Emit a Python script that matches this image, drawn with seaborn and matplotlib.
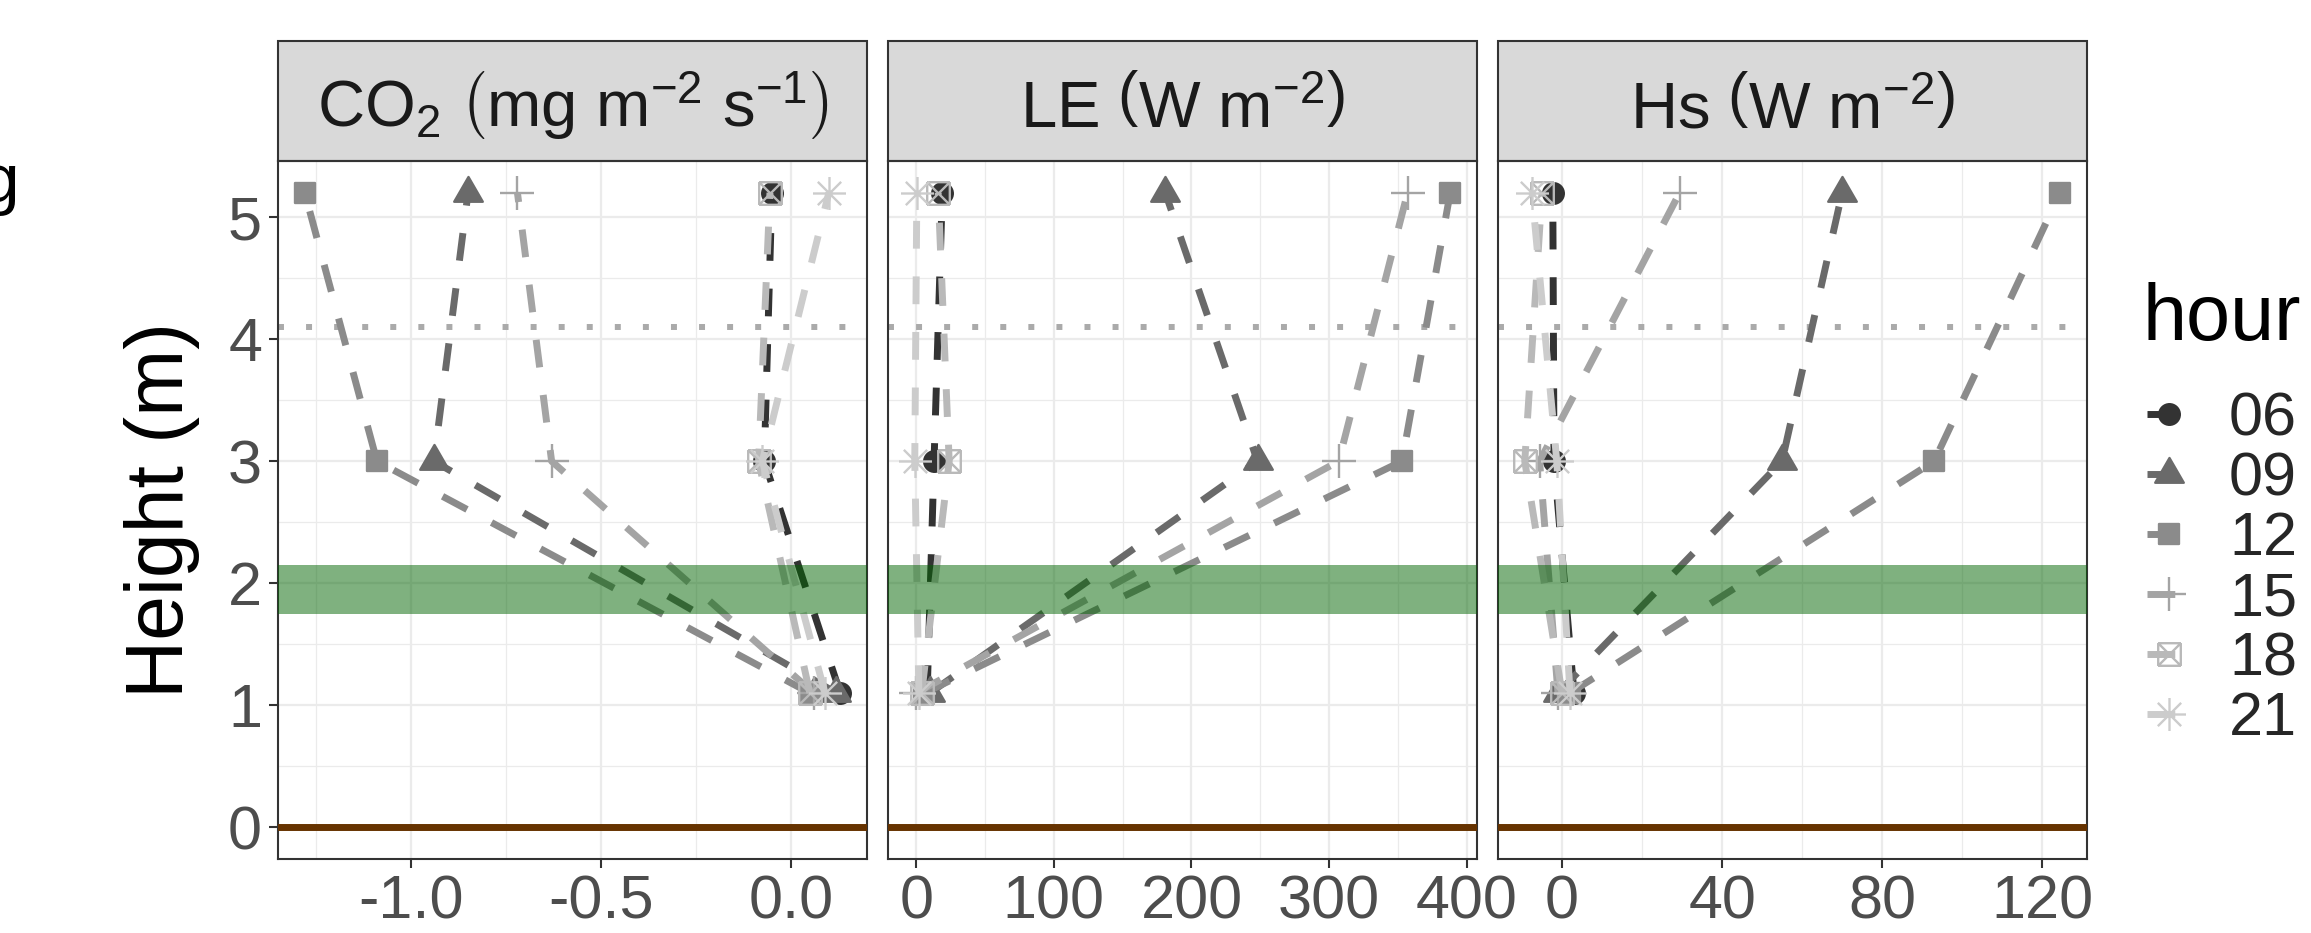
import numpy as np
import pandas as pd
import matplotlib
matplotlib.use('Agg')
import matplotlib.pyplot as plt
import seaborn as sns
from matplotlib.path import Path
from matplotlib.patches import Rectangle
from matplotlib.ticker import AutoMinorLocator

# measurement heights (m) and hours of the profiles
heights = [1.1, 3.0, 5.2]
hours = ['06', '09', '12', '15', '18', '21']

# flux profiles, one list per hour, values at 1.1, 3.0 and 5.2 m
co2 = {'06': [0.13, -0.07, -0.05],
       '09': [0.12, -0.94, -0.85],
       '12': [0.05, -1.09, -1.28],
       '15': [0.06, -0.63, -0.72],
       '18': [0.05, -0.085, -0.055],
       '21': [0.09, -0.075, 0.10]}
le = {'06': [8, 13, 19],
      '09': [10, 248, 181],
      '12': [6, 353, 388],
      '15': [0, 307, 357],
      '18': [4, 24, 16],
      '21': [2, -1, 0.5]}
hs = {'06': [3, -2, -2.3],
      '09': [-1, 55, 70],
      '12': [2, 93, 124.5],
      '15': [-1, -5.6, 29.4],
      '18': [0, -9.3, -5],
      '21': [2, -1.3, -7.5]}

panel_titles = [r'CO$_2$ $\left(\mathrm{mg\ m^{-2}\ s^{-1}}\right)$',
                r'LE $\left(\mathrm{W\ m^{-2}}\right)$',
                r'Hs $\left(\mathrm{W\ m^{-2}}\right)$']
x_ticks = [[-1.0, -0.5, 0.0], [0, 100, 200, 300, 400], [0, 40, 80, 120]]
x_ticklabels = [['-1.0', '-0.5', '0.0'], ['0', '100', '200', '300', '400'],
                ['0', '40', '80', '120']]
y_ticks = [0, 1, 2, 3, 4, 5]
canopy = (1.75, 2.15)
sensor_height = 4.1
ground = 0

grey_cols = ['#333333', '#6a6a6a', '#8b8b8b', '#a4a4a4', '#b9b9b9', '#cccccc']

# long table for seaborn
rows = []
for name, d in zip(['CO2', 'LE', 'Hs'], [co2, le, hs]):
    for h in hours:
        for z, v in zip(heights, d[h]):
            rows.append((name, h, z, v))
df = pd.DataFrame(rows, columns=['var', 'hour', 'height', 'value'])

# marker shapes drawn in pixel units; a dummy point at M fixes the common scale
M = 18.0


def with_scale(path):
    verts = np.vstack([path.vertices, [[M, 0]]])
    codes = np.concatenate([path.codes, [Path.MOVETO]])
    return Path(verts, codes)


def segments(segs):
    verts, codes = [], []
    for a, b in segs:
        verts += [a, b]
        codes += [Path.MOVETO, Path.LINETO]
    return Path(np.array(verts, float), np.array(codes, np.uint8))


circle = Path.circle((0, 0), 10.3)
r = 16.5
triangle = Path([(0, r), (-r * 0.866, -r / 2), (r * 0.866, -r / 2), (0, r)],
                [Path.MOVETO, Path.LINETO, Path.LINETO, Path.CLOSEPOLY])
sq = 10.3
square = Path([(-sq, -sq), (sq, -sq), (sq, sq), (-sq, sq), (-sq, -sq)],
              [Path.MOVETO, Path.LINETO, Path.LINETO, Path.LINETO, Path.CLOSEPOLY])
plus = segments([((-17, 0), (17, 0)), ((0, -17), (0, 17))])
b = 11.3
boxx = segments([((-b, -b), (b, -b)), ((b, -b), (b, b)), ((b, b), (-b, b)),
                 ((-b, b), (-b, -b)), ((-b, -b), (b, b)), ((-b, b), (b, -b))])
a = 16.5
d = a * 0.7071
aster = segments([((-a, 0), (a, 0)), ((0, -a), (0, a)),
                  ((-d, -d), (d, d)), ((-d, d), (d, -d))])
marker_paths = [with_scale(p) for p in [circle, triangle, square, plus, boxx, aster]]

sns.set_theme(style='white')
plt.rcParams['font.family'] = ['Liberation Sans', 'DejaVu Sans']
plt.rcParams['mathtext.fontset'] = 'custom'
plt.rcParams['mathtext.rm'] = 'Liberation Sans'
plt.rcParams['mathtext.it'] = 'Liberation Sans:italic'
plt.rcParams['mathtext.bf'] = 'Liberation Sans:bold'

W, H = 2311, 933
fig = plt.figure(figsize=(W / 100, H / 100), dpi=100)
fig.patch.set_facecolor('white')

lefts = [278, 888, 1498]
pw, top, bottom = 589, 161, 859
axes = []
for i, (name, title) in enumerate(zip(['CO2', 'LE', 'Hs'], panel_titles)):
    ax = fig.add_axes([lefts[i] / W, 1 - bottom / H, pw / W, (bottom - top) / H])
    axes.append(ax)
    sub = df[df['var'] == name]
    sns.lineplot(data=sub, x='value', y='height', hue='hour', style='hour',
                 hue_order=hours, style_order=hours,
                 palette=dict(zip(hours, grey_cols)),
                 markers=dict(zip(hours, marker_paths)),
                 dashes={h: (4, 4) for h in hours},
                 orient='y', estimator=None, linewidth=5,
                 markersize=2 * M * 0.72, markeredgewidth=1.7,
                 markeredgecolor=None, legend=(i == 2), ax=ax, zorder=3)

    ax.axhline(sensor_height, color='#aaaaaa', lw=4.3, ls=(0, (1, 3.7)), zorder=2)
    ax.axhspan(canopy[0], canopy[1], color='darkgreen', alpha=0.5, lw=0, zorder=4)
    ax.axhline(ground, color='#663300', lw=5, zorder=4)

    ax.set_ylim(-0.26, 5.46)
    ax.set_yticks(y_ticks)
    ax.set_xticks(x_ticks[i])
    ax.set_xticklabels(x_ticklabels[i])
    ax.xaxis.set_minor_locator(AutoMinorLocator(2))
    ax.yaxis.set_minor_locator(AutoMinorLocator(2))
    ax.grid(which='major', color='#ebebeb', lw=1.6, zorder=0)
    ax.grid(which='minor', color='#ebebeb', lw=0.9, zorder=0)
    ax.set_axisbelow(True)
    ax.tick_params(which='major', length=6.5, width=1.5, color='#333333',
                   labelsize=44, labelcolor='#4d4d4d', pad=5,
                   bottom=True, left=(i == 0))
    ax.tick_params(which='minor', length=0)
    if i > 0:
        ax.set_yticklabels([])
    for s in ax.spines.values():
        s.set_color('#333333')
        s.set_linewidth(1.5)
    ax.set_xlabel('')
    ax.set_ylabel('')

    # facet strip
    sh = 120 / (bottom - top)
    ax.add_patch(Rectangle((0, 1), 1, sh, transform=ax.transAxes, clip_on=False,
                           facecolor='#d9d9d9', edgecolor='#333333', lw=1.5))
    ax.text(0.5, 1 + (top - 127) / (bottom - top), title, transform=ax.transAxes,
            ha='center', va='baseline', fontsize=47, color='#1a1a1a')

axes[0].set_ylabel('Height (m)', fontsize=58, color='black')
axes[0].yaxis.set_label_coords((200 - 278) / pw, 0.5)

# legend moved next to the last panel, title as separate text
leg = axes[2].get_legend()
handles = leg.legend_handles
labels = [t.get_text() for t in leg.get_texts()]
leg.remove()
fig.legend(handles, labels, loc='upper left',
           bbox_to_anchor=(2147 / W, 1 - 391 / H), frameon=False,
           fontsize=44, handlelength=0.72, handletextpad=0.62,
           labelspacing=0.05, borderpad=0, borderaxespad=0)
fig.text(2143 / W, 1 - 340 / H, 'hour', ha='left', va='baseline', fontsize=57,
         color='black')

fig.text(19 / W, 1 - 202 / H, 'g', ha='right', va='baseline', fontsize=50,
         color='black')

fig.savefig('out.png', dpi=100, facecolor='white')
